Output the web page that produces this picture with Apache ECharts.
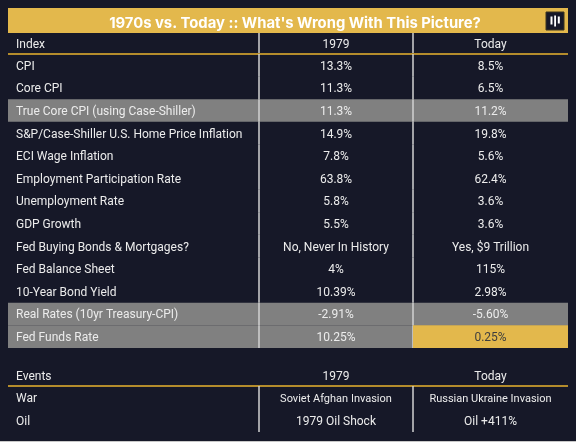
<!DOCTYPE html>
<html>
<head>
<meta charset="utf-8">
<script src="https://cdn.jsdelivr.net/npm/echarts@6/dist/echarts.min.js"></script>
<style>
html,body{margin:0;padding:0;background:#161828;}
#c{width:576px;height:442px;}
</style>
</head>
<body>
<div id="c"></div>
<script>
// ---- data ----
const titleText = "1970s vs. Today :: What's Wrong With This Picture?";
const headers = ['Index', '1979', 'Today'];
const indexLabels = [
  'CPI', 'Core CPI', 'True Core CPI (using Case-Shiller)',
  'S&P/Case-Shiller U.S. Home Price Inflation', 'ECI Wage Inflation',
  'Employment Participation Rate', 'Unemployment Rate', 'GDP Growth',
  'Fed Buying Bonds & Mortgages?', 'Fed Balance Sheet', '10-Year Bond Yield',
  'Real Rates (10yr Treasury-CPI)', 'Fed Funds Rate'
];
const values1979 = ['13.3%', '11.3%', '11.3%', '14.9%', '7.8%', '63.8%', '5.8%', '5.5%',
  'No, Never In History', '4%', '10.39%', '-2.91%', '10.25%'];
const valuesToday = ['8.5%', '6.5%', '11.2%', '19.8%', '5.6%', '62.4%', '3.6%', '3.6%',
  'Yes, $9 Trillion', '115%', '2.98%', '-5.60%', '0.25%'];
const eventHeaders = ['Events', '1979', 'Today'];
const eventLabels = ['War', 'Oil'];
const events1979 = ['Soviet Afghan Invasion', '1979 Oil Shock'];
const eventsToday = ['Russian Ukraine Invasion', 'Oil +411%'];
const highlightedRows = ['True Core CPI (using Case-Shiller)', 'Real Rates (10yr Treasury-CPI)', 'Fed Funds Rate'];
const goldCellRow = 'Fed Funds Rate';

// ---- layout (row units) ----
const COL_EDGES = [0, 251, 405, 560];
const X_MAX = 560;
const HEADER_H = 0.93, ROW_H = 1.0, GAP_H = 0.72, EV_HEADER_H = 0.97, EV_ROW_H = 1.015;
const TEXT_DY = 1.5;

const rows = [];
let y = 0;
rows.push({cells: headers, top: y, bot: y + HEADER_H, dividers: true, rule: true, size: 12});
y += HEADER_H;
indexLabels.forEach((lab, i) => {
  rows.push({cells: [lab, values1979[i], valuesToday[i]], top: y, bot: y + ROW_H, dividers: true,
    highlight: highlightedRows.includes(lab), gold: lab === goldCellRow, size: 12});
  y += ROW_H;
});
y += GAP_H;
rows.push({cells: eventHeaders, top: y, bot: y + EV_HEADER_H, dividers: false, rule: true, size: 12});
y += EV_HEADER_H;
eventLabels.forEach((lab, i) => {
  rows.push({cells: [lab, events1979[i], eventsToday[i]], top: y, bot: y + EV_ROW_H, dividers: true,
    size: 12, valSize: i === 0 ? 11 : 12});
  y += EV_ROW_H;
});
const TOTAL = y;

const FONT = 'Roboto, "Liberation Sans", sans-serif';
const TXT = '#ececec';

function renderItem(params, api) {
  const r = rows[params.dataIndex];
  const top = api.value(1), bot = api.value(2);
  const y0 = api.coord([0, top])[1];
  const y1 = api.coord([0, bot])[1];
  const xs = COL_EDGES.map(e => api.coord([e, top])[0]);
  const cy = (y0 + y1) / 2 + TEXT_DY;
  const ch = [];
  if (r.highlight) {
    ch.push({type: 'rect', shape: {x: xs[0], y: y0, width: xs[3] - xs[0], height: y1 - y0},
      style: {fill: '#808080'}});
  }
  if (r.dividers) {
    [1, 2].forEach(k => ch.push({type: 'line', shape: {x1: xs[k], y1: y0, x2: xs[k], y2: y1},
      style: {stroke: '#d2d2d2', lineWidth: 1.5}}));
  }
  if (r.gold) {
    ch.push({type: 'rect', shape: {x: xs[2], y: y0, width: xs[3] - xs[2], height: y1 - y0},
      style: {fill: '#e3b84c'}});
  }
  if (r.rule) {
    ch.push({type: 'line', shape: {x1: xs[0], y1: y1, x2: xs[3], y2: y1},
      style: {stroke: '#b48c2c', lineWidth: 2}});
  }
  r.cells.forEach((t, c) => {
    const x = c === 0 ? xs[0] + 8 : (xs[c] + xs[c + 1]) / 2;
    const size = c === 0 ? r.size : (r.valSize || r.size);
    const fill = (r.gold && c === 2) ? '#3e3e3e' : TXT;
    ch.push({type: 'text', style: {x: x, y: cy, text: t, fill: fill,
      font: size + 'px ' + FONT, textAlign: c === 0 ? 'left' : 'center', textVerticalAlign: 'middle'}});
  });
  return {type: 'group', children: ch};
}

const chart = echarts.init(document.getElementById('c'), null, {renderer: 'canvas'});
chart.setOption({
  backgroundColor: '#161828',
  animation: false,
  title: {
    text: titleText, left: 290, top: 11, textAlign: 'center',
    textStyle: {color: '#ffffff', fontSize: 14.8, fontWeight: 'bold', fontFamily: 'Inter, "Open Sans", sans-serif'}
  },
  graphic: [
    {type: 'rect', z: -1, shape: {x: 8, y: 8, width: 560, height: 25}, style: {fill: '#e3b84c'}},
    {type: 'rect', shape: {x: 546, y: 12, width: 18, height: 18}, style: {fill: '#161828', stroke: '#3a3420', lineWidth: 1}},
    {type: 'rect', shape: {x: 550.5, y: 16.5, width: 2, height: 8}, style: {fill: '#ffffff'}},
    {type: 'rect', shape: {x: 554.2, y: 15.5, width: 1.8, height: 11}, style: {fill: '#ffffff'}},
    {type: 'rect', shape: {x: 557.8, y: 16.5, width: 2, height: 7}, style: {fill: '#ffffff'}},
    {type: 'line', shape: {x1: 0, y1: 441.5, x2: 576, y2: 441.5}, style: {stroke: '#c8c8c8', lineWidth: 1}}
  ],
  grid: {left: 8, right: 8, top: 33, bottom: 10},
  xAxis: {type: 'value', min: 0, max: X_MAX, show: false},
  yAxis: {type: 'value', inverse: true, min: 0, max: TOTAL, show: false},
  series: [{
    type: 'custom',
    clip: false,
    renderItem: renderItem,
    data: rows.map((r, i) => [i, r.top, r.bot])
  }]
});
</script>
</body>
</html>
